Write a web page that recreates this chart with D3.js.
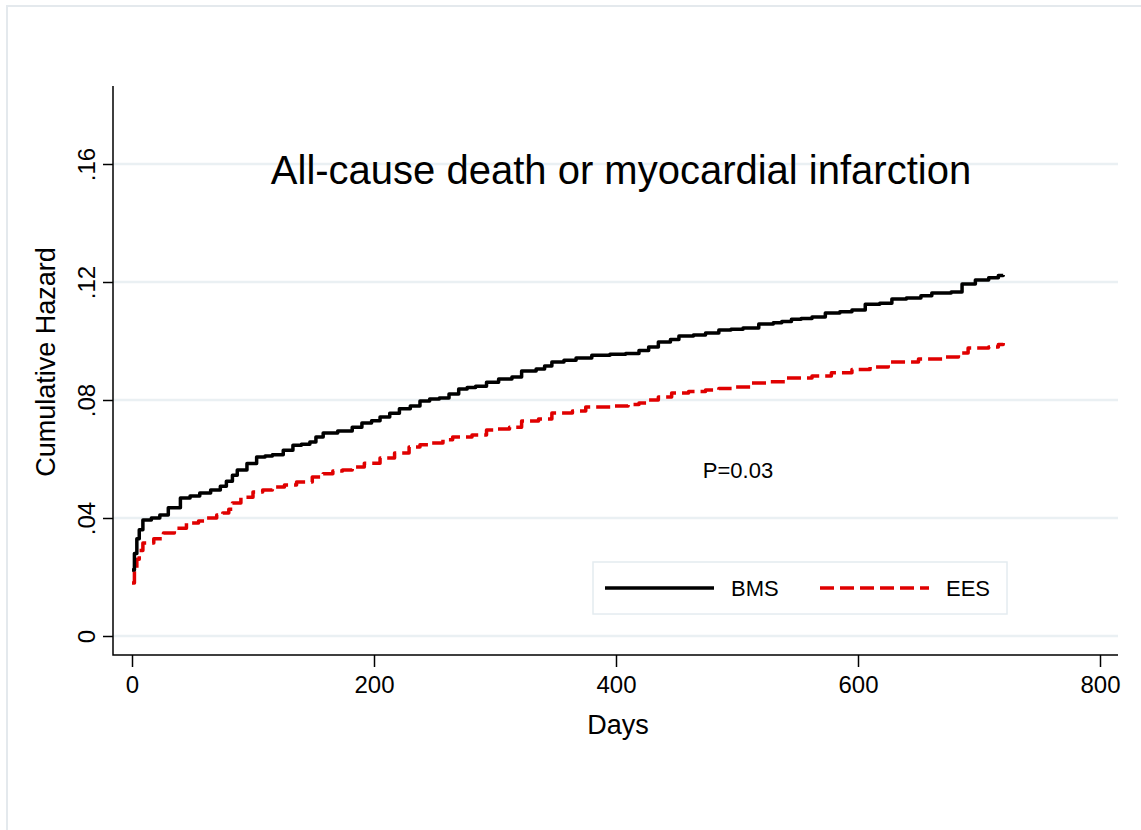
<!DOCTYPE html>
<html>
<head>
<meta charset="utf-8">
<script src="https://cdn.jsdelivr.net/npm/d3@7"></script>
<style>
  body { margin: 0; background: #ffffff; }
  svg { display: block; font-family: "Liberation Sans", Arial, sans-serif; }
  .grid line { stroke: #eaf0f3; stroke-width: 2.5px; }
  .axis-line { stroke: #000; stroke-width: 1.5px; }
  .tick line { stroke: #000; stroke-width: 1.5px; }
  .tick text { fill: #000; font-size: 24px; font-family: "Liberation Sans", Arial, sans-serif; }
</style>
</head>
<body>
<div id="wrapper"></div>
<script>
// Cumulative hazard
const bmsDays = [0, 2, 4, 6, 9, 16, 23, 30, 40, 48, 56, 65, 73, 78, 83, 87, 95, 103, 110, 116,
  125, 133, 140, 147, 152, 158, 170, 182, 190, 198, 205, 213, 221, 230, 238, 246, 254, 262,
  270, 277, 284, 293, 303, 314, 322, 334, 341, 347, 357, 367, 380, 395, 408, 419, 427, 435,
  445, 452, 464, 474, 485, 495, 505, 518, 530, 537, 545, 553, 562, 573, 585, 595, 606, 618,
  628, 640, 652, 661, 677, 686, 697, 708, 716, 720]
const bmsHazard = [.0224, .028, .033, .036, .0393, .040, .041, .0435, .0468, .0475, .0485,
  .0495, .0508, .0525, .0545, .0563, .0585, .0607, .061, .0614, .063, .0647, .065, .0658,
  .0675, .0688, .0695, .0708, .0722, .073, .0742, .0755, .077, .078, .0797, .0803, .0807,
  .082, .0837, .0842, .0847, .086, .0871, .0878, .0898, .0905, .0915, .0929, .0935, .0942,
  .0952, .0955, .0958, .0968, .098, .0997, .1005, .1017, .102, .1027, .1037, .104, .1044,
  .1058, .1062, .1066, .1074, .1076, .1081, .1095, .1099, .1105, .1125, .1128, .1142, .1146,
  .1153, .1163, .1166, .1193, .1207, .1214, .1222, .1224]

const eesDays = [0, 2, 4, 6, 9, 18, 26, 35, 45, 55, 62, 70, 75, 80, 83, 90, 100, 108, 116,
  126, 136, 149, 158, 166, 174, 182, 192, 205, 217, 229, 238, 248, 257, 265, 281, 293, 302,
  312, 322, 336, 347, 364, 375, 397, 410, 419, 427, 435, 446, 460, 474, 485, 496, 512, 525,
  540, 562, 578, 595, 610, 625, 650, 672, 683, 691, 708, 716, 720]
const eesHazard = [.018, .022, .026, .029, .0315, .033, .0349, .0365, .0383, .039, .040, .041,
  .0417, .043, .0451, .047, .0488, .0495, .0505, .0512, .0522, .0539, .055, .0559, .0563,
  .0573, .0586, .0603, .062, .0641, .0648, .0654, .0665, .0675, .0681, .0698, .0702, .0708,
  .0729, .0736, .0756, .0763, .0776, .078, .0785, .079, .080, .081, .0824, .0829, .0834,
  .0839, .0844, .0858, .0862, .0875, .0881, .0892, .0903, .0912, .0929, .0939, .0946, .0959,
  .0976, .098, .0988, .0993]

const seriesNames = ["BMS", "EES"]
const seriesColors = ["#000000", "#e00000"]
const xTicks = [0, 200, 400, 600, 800]
const yTicks = [0, .04, .08, .12, .16]

async function drawChart() {

  // 1. Access data
  const series = [
    { name: seriesNames[0], color: seriesColors[0], dash: null,
      values: bmsDays.map((d, i) => ({ day: d, hazard: bmsHazard[i] })) },
    { name: seriesNames[1], color: seriesColors[1], dash: "14,6",
      values: eesDays.map((d, i) => ({ day: d, hazard: eesHazard[i] })) },
  ]
  const xAccessor = d => d.day
  const yAccessor = d => d.hazard

  // 2. Create chart dimensions
  let dimensions = {
    width: 1141,
    height: 830,
    margin: { top: 86, right: 23, bottom: 175, left: 113 },
  }
  dimensions.boundedWidth = dimensions.width
    - dimensions.margin.left
    - dimensions.margin.right
  dimensions.boundedHeight = dimensions.height
    - dimensions.margin.top
    - dimensions.margin.bottom

  // 3. Draw canvas
  const wrapper = d3.select("#wrapper")
    .append("svg")
      .attr("width", dimensions.width)
      .attr("height", dimensions.height)

  // light outer frame
  wrapper.append("path")
      .attr("d", `M7,${dimensions.height} V6 H${dimensions.width}`)
      .attr("fill", "none")
      .attr("stroke", "#e4e9ed")
      .attr("stroke-width", 2)

  const bounds = wrapper.append("g")
      .attr("transform", `translate(${dimensions.margin.left},${dimensions.margin.top})`)

  // 4. Create scales
  const xScale = d3.scaleLinear()
    .domain([0, 800])
    .range([19, 987])

  const yScale = d3.scaleLinear()
    .domain([0, .16])
    .range([550, 78])

  // gridlines
  bounds.append("g")
      .attr("class", "grid")
    .selectAll("line")
    .data(yTicks)
    .join("line")
      .attr("x1", 0)
      .attr("x2", dimensions.boundedWidth)
      .attr("y1", d => yScale(d))
      .attr("y2", d => yScale(d))

  // 5. Draw data
  const lineGenerator = d3.line()
    .x(d => xScale(xAccessor(d)))
    .y(d => yScale(yAccessor(d)))
    .curve(d3.curveStepAfter)

  bounds.selectAll(".series")
    .data(series.slice().reverse())
    .join("path")
      .attr("class", "series")
      .attr("d", d => lineGenerator(d.values))
      .attr("fill", "none")
      .attr("stroke", d => d.color)
      .attr("stroke-width", 3.5)
      .attr("stroke-linejoin", "round")
      .attr("stroke-dasharray", d => d.dash)

  // 6. Draw peripherals
  const fmt = d => d === 0 ? "0" : d3.format(".2f")(d).replace(/^0/, "")

  const yAxis = bounds.append("g")
    .call(d3.axisLeft(yScale).tickValues(yTicks).tickFormat(fmt).tickSize(10))
  yAxis.select(".domain").remove()
  yAxis.selectAll(".tick text")
      .attr("transform", "rotate(-90)")
      .attr("x", 0)
      .attr("y", -18)
      .attr("dy", 0)
      .attr("text-anchor", "middle")

  const xAxis = bounds.append("g")
      .attr("transform", `translate(0,${dimensions.boundedHeight})`)
    .call(d3.axisBottom(xScale).tickValues(xTicks).tickSize(12))
  xAxis.select(".domain").remove()
  xAxis.selectAll(".tick text")
      .attr("y", 21)

  bounds.append("path")
      .attr("class", "axis-line")
      .attr("d", `M0,0 V${dimensions.boundedHeight} H${dimensions.boundedWidth}`)
      .attr("fill", "none")

  wrapper.append("text")
      .attr("transform", "translate(55,362) rotate(-90)")
      .attr("text-anchor", "middle")
      .style("font-size", "27px")
      .text("Cumulative Hazard")

  wrapper.append("text")
      .attr("x", 618)
      .attr("y", 734)
      .attr("text-anchor", "middle")
      .style("font-size", "27px")
      .text("Days")

  wrapper.append("text")
      .attr("x", 621)
      .attr("y", 184)
      .attr("text-anchor", "middle")
      .style("font-size", "40px")
      .text("All-cause death or myocardial infarction")

  wrapper.append("text")
      .attr("x", 738)
      .attr("y", 478)
      .attr("text-anchor", "middle")
      .style("font-size", "22px")
      .text("P=0.03")

  // legend
  const legend = wrapper.append("g")
      .attr("transform", "translate(593,562)")

  legend.append("rect")
      .attr("width", 414)
      .attr("height", 52)
      .attr("fill", "#fff")
      .attr("stroke", "#e4ebf0")
      .attr("stroke-width", 1.5)

  const legendItems = legend.selectAll(".legend-item")
    .data(series)
    .join("g")
      .attr("class", "legend-item")
      .attr("transform", (d, i) => `translate(${12 + i * 215},26)`)

  legendItems.append("line")
      .attr("x1", 0)
      .attr("x2", 109)
      .attr("stroke", d => d.color)
      .attr("stroke-width", 3.5)
      .attr("stroke-dasharray", d => d.dash)

  legendItems.append("text")
      .attr("x", 126)
      .attr("y", 8)
      .style("font-size", "22px")
      .text(d => d.name)

}
drawChart()
</script>
</body>
</html>
